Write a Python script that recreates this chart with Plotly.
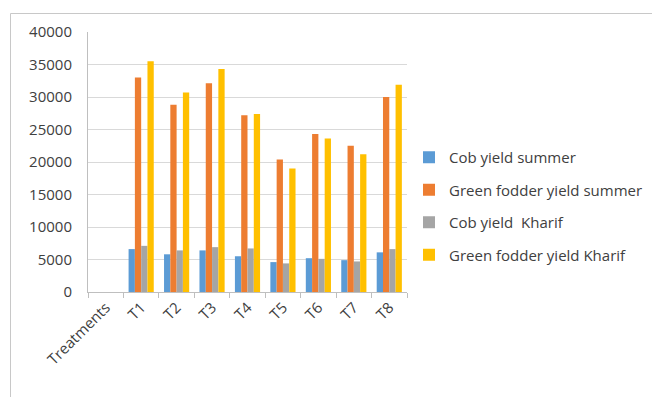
import plotly.graph_objects as go

categories = ["Treatments", "T1", "T2", "T3", "T4", "T5", "T6", "T7", "T8"]
cob_summer = [None, 6600, 5800, 6400, 5500, 4600, 5200, 4900, 6100]
fodder_summer = [None, 33000, 28800, 32100, 27200, 20400, 24300, 22500, 30000]
cob_kharif = [None, 7100, 6400, 6900, 6700, 4400, 5100, 4700, 6600]
fodder_kharif = [None, 35500, 30700, 34300, 27400, 19000, 23600, 21200, 31900]

series = [
    ("Cob yield summer", cob_summer, "#5B9BD5"),
    ("Green fodder yield summer", fodder_summer, "#ED7D31"),
    ("Cob yield  Kharif", cob_kharif, "#A5A5A5"),
    ("Green fodder yield Kharif", fodder_kharif, "#FFC000"),
]

fig = go.Figure()
for i, (name, vals, col) in enumerate(series):
    fig.add_trace(go.Bar(x=categories, y=vals, name=name, marker_color=col,
                         marker_line_width=0, legendgroup=f"g{i}"))

W, H = 652, 397
L, R, T, B = 88, 245, 32, 105
pw = W - L - R
ph = H - T - B
fx = lambda px: (px - L) / pw
fy = lambda py: 1 - (py - T) / ph

font = "Open Sans, Liberation Sans, sans-serif"
fig.update_layout(
    width=W, height=H,
    margin=dict(l=L, r=R, t=T, b=B, autoexpand=False),
    paper_bgcolor="white", plot_bgcolor="white",
    barmode="group", bargap=0.29, bargroupgap=0,
    font=dict(family=font, size=15, color="#404040"),
    showlegend=True,
    legend=dict(x=fx(409), y=fy(206), xanchor="left", yanchor="middle",
                traceorder="grouped", tracegroupgap=10,
                font=dict(family=font, size=15, color="#404040"),
                itemwidth=30, bgcolor="rgba(0,0,0,0)"),
    xaxis=dict(type="category", tickangle=-45, showgrid=False,
               showline=True, linecolor="#bfbfbf", linewidth=1,
               ticks="outside", tickson="boundaries", ticklen=5, tickcolor="#bfbfbf",
               tickfont=dict(family=font, size=15, color="#404040")),
    yaxis=dict(range=[0, 40000], dtick=5000, tickformat="d", showgrid=True,
               gridcolor="#d9d9d9",
               showline=True, linecolor="#bfbfbf", linewidth=1, zeroline=False,
               ticks="", ticklabelstandoff=12,
               tickfont=dict(family=font, size=15, color="#404040")),
    shapes=[
        dict(type="line", xref="paper", yref="paper", x0=fx(10.5), x1=fx(10.5),
             y0=fy(400), y1=fy(13.5), line=dict(color="#c8c8c8", width=1)),
        dict(type="line", xref="paper", yref="paper", x0=fx(10.5), x1=fx(660),
             y0=fy(13.5), y1=fy(13.5), line=dict(color="#c8c8c8", width=1)),
    ],
)

fig.write_html("out.html")
